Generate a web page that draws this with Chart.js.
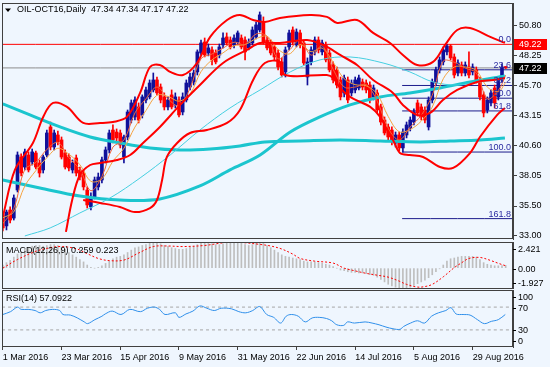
<!DOCTYPE html>
<html>
<head>
<meta charset="utf-8">
<script src="https://cdn.jsdelivr.net/npm/chart.js@4.4.0/dist/chart.umd.min.js"></script>
<style>
  html, body { margin: 0; padding: 0; background: #EFF6FE; }
  #wrap { position: relative; width: 550px; height: 367px; overflow: hidden; background: #EFF6FE; }
  canvas { position: absolute; left: 0; }
</style>
</head>
<body>
<div id="wrap">
  <canvas id="main" width="550" height="241" style="top:0px"></canvas>
  <canvas id="macd" width="550" height="48" style="top:241px"></canvas>
  <canvas id="rsi" width="550" height="78" style="top:289px"></canvas>
</div>
<script>
// ---- data ----
const title = 'OIL-OCT16,Daily  47.34 47.34 47.17 47.22';
const dateLabels = ['1 Mar 2016', '23 Mar 2016', '15 Apr 2016', '9 May 2016', '31 May 2016',
  '22 Jun 2016', '14 Jul 2016', '5 Aug 2016', '29 Aug 2016'];
const labelBars = [0, 16, 32, 48, 64, 80, 96, 112, 128];
const priceTicks = [50.80, 48.25, 45.70, 43.15, 40.60, 38.05, 35.50, 33.00];

const opens = [34.74,33.81,35.16,34.48,36.86,39.66,38.81,39.83,39.24,40.00,
  39.15,38.56,39.83,42.21,40.51,41.53,41.11,40.00,39.66,38.56,
  39.58,38.56,38.30,36.86,35.42,36.27,37.12,37.71,39.41,40.26,
  41.95,41.78,41.70,39.66,41.36,42.80,43.06,43.91,43.23,44.50,
  44.76,45.35,46.20,45.60,44.76,43.91,44.93,44.08,44.50,43.48,
  44.50,45.60,46.03,46.88,48.49,49.42,48.49,48.75,48.49,48.32,
  49.17,49.85,49.59,49.17,49.42,49.76,49.59,48.92,49.34,49.85,
  50.44,51.12,49.59,49.34,49.00,48.49,47.73,46.88,49.00,50.44,
  49.17,50.19,49.34,46.45,47.73,48.58,49.59,48.58,49.17,48.49,
  47.47,47.05,46.20,45.10,46.20,45.10,45.35,45.52,46.03,45.94,
  45.77,44.76,45.10,43.91,42.80,42.21,41.95,40.85,41.53,40.43,
  41.53,42.12,42.63,44.25,43.91,43.65,42.21,44.50,45.94,47.05,
  47.73,48.58,49.08,48.15,46.79,47.47,46.79,47.30,46.88,47.05,
  46.20,44.93,43.65,44.25,45.52,44.76,46.20,47.34];
const highs = [34.99,35.16,35.42,36.44,40.09,39.92,40.34,40.09,40.34,40.17,
  39.41,39.83,41.95,42.63,41.95,41.87,41.36,40.26,39.92,39.41,
  39.83,38.81,38.56,37.12,36.61,37.96,38.30,39.66,40.51,41.95,
  42.38,42.04,41.95,41.53,43.65,44.50,44.76,44.25,44.93,45.60,
  46.20,46.79,46.45,45.86,45.10,44.76,45.35,45.10,44.76,45.10,
  46.20,46.79,47.05,48.75,49.59,49.76,49.25,49.00,48.75,49.25,
  50.19,50.19,49.85,50.02,50.36,50.02,49.85,49.68,50.70,51.12,
  51.97,51.55,49.85,49.59,49.25,48.75,48.07,49.00,50.44,50.70,
  50.53,50.44,49.59,48.07,49.00,49.85,49.85,49.59,49.42,48.75,
  47.73,47.30,46.45,46.62,46.45,46.20,46.45,46.62,46.28,46.20,
  46.03,45.77,45.35,44.16,43.06,42.46,42.21,41.78,41.78,42.04,
  42.63,43.06,43.74,44.50,44.16,43.91,44.76,46.28,47.30,48.15,
  49.00,49.22,49.20,48.41,47.90,47.73,47.73,48.58,47.56,47.30,
  46.45,45.18,44.76,45.35,45.77,46.45,47.56,47.34];
const lows = [33.38,33.47,34.06,34.31,36.69,38.05,38.56,38.39,38.98,38.64,
  37.96,38.30,39.66,40.26,40.26,40.68,39.49,38.64,38.47,38.30,
  38.05,37.71,36.86,35.33,35.16,36.10,36.86,37.45,39.15,40.00,
  40.85,41.02,40.43,39.15,41.11,42.55,42.80,42.55,42.97,44.25,
  44.59,45.18,44.93,44.25,43.65,43.65,43.74,43.82,43.06,43.23,
  44.33,45.35,45.77,46.62,48.32,48.15,48.24,47.47,47.56,48.07,
  48.92,49.17,48.83,48.92,49.25,48.83,47.90,48.75,49.17,49.68,
  50.27,49.25,48.75,48.32,47.90,47.05,46.45,46.45,48.75,49.17,
  49.00,48.92,47.47,45.77,47.47,48.32,48.49,48.32,47.73,46.88,
  45.94,45.52,44.50,44.76,44.25,44.84,45.10,45.35,45.35,45.10,
  44.25,44.50,43.40,42.38,41.53,41.11,40.68,40.51,40.20,40.08,
  41.28,41.87,42.38,43.14,42.80,42.55,41.95,44.25,45.69,46.79,
  47.47,48.32,47.90,46.37,46.54,46.54,46.54,46.37,46.62,45.94,
  44.50,43.06,43.40,43.99,43.82,44.50,46.03,47.17];
const closes = [33.64,34.99,34.31,36.18,39.83,38.30,40.09,38.56,40.09,38.81,
  38.30,39.66,41.70,40.51,41.70,40.94,39.66,38.81,38.73,39.15,
  38.30,37.96,37.12,35.59,36.27,37.71,37.96,39.41,40.26,41.70,
  41.11,41.28,40.68,41.36,43.48,44.25,44.50,42.80,44.76,45.35,
  45.94,46.20,45.10,44.50,43.91,44.50,43.91,44.76,43.23,44.76,
  45.94,46.45,46.79,48.58,49.34,48.32,48.92,47.90,47.73,49.00,
  49.76,49.34,49.00,49.76,50.19,49.00,48.58,49.42,50.44,50.87,
  51.72,49.42,48.92,48.49,48.15,47.30,46.62,48.75,50.19,49.42,
  50.27,49.17,47.64,47.73,48.75,49.59,48.75,49.34,47.90,47.05,
  46.20,45.77,44.76,46.37,44.50,45.94,46.20,46.37,45.60,45.35,
  44.50,45.52,43.65,42.63,41.70,41.36,40.94,41.53,40.43,41.78,
  42.38,42.80,43.48,43.40,43.06,42.80,44.50,46.03,47.05,47.90,
  48.75,49.08,48.07,46.62,47.64,46.79,47.47,46.62,47.30,46.20,
  44.76,43.40,44.50,45.10,44.25,46.20,47.30,47.22];

// [bar, price] points
const bbUpper = [[0,34.57],[3.3,38.56],[8.2,40.85],[11,43.06],[13.7,44.25],[17.5,43.91],[21.9,42.55],
  [26.5,42.55],[30,42.63],[33.8,43.06],[37.4,45.10],[40.1,47.30],[42.8,47.47],[45.6,46.88],[49.1,46.62],
  [52.9,47.64],[56.5,49.85],[61.1,51.29],[64.6,51.72],[68.2,51.29],[71.4,51.12],[75.5,51.46],[83.7,51.72],
  [88.3,51.55],[91.1,51.04],[96.5,51.29],[100.9,50.19],[105.5,49.34],[109,48.32],[112.9,47.47],[117.2,47.73],
  [120.5,49.17],[123.8,50.44],[127.3,50.61],[132.8,49.85],[136.8,49.34]];
const bbMiddle = [[17.2,33.30],[18.9,36.01],[21,38.13],[23.8,38.98],[26.5,39.15],[31.1,39.41],[34.7,39.83],
  [38.2,40.85],[42.8,42.21],[48.3,44.08],[53.7,45.77],[60,47.64],[66.5,48.75],[70.1,49.34],[75.5,49.34],
  [82.9,49.59],[87.3,49.17],[91.9,48.32],[96.5,47.47],[100.9,46.20],[106.3,45.10],[109,44.08],[112.9,43.23],
  [116.4,43.40],[119.9,44.50],[123.8,45.35],[129.2,46.03],[133.6,46.20],[136.8,46.37]];
const bbLower = [[21.9,36.01],[26.5,35.76],[31.9,35.42],[36,34.99],[40.1,35.33],[42,36.01],[43.4,37.71],
  [44.7,39.66],[47.5,40.85],[51,41.70],[55.6,41.95],[61.1,42.55],[64.6,43.65],[68.2,46.20],[71.4,47.64],
  [75.5,47.73],[76.9,46.62],[88.3,46.62],[90,46.37],[91.9,45.52],[94.6,44.76],[100.1,43.91],[102.8,43.06],
  [104.7,41.95],[106.3,41.11],[108.2,40.00],[110.9,39.83],[114.5,39.66],[119.1,38.81],[122.7,38.73],
  [127.3,40.00],[130,41.36],[134.7,43.23],[136.8,43.82]];
const maFast = [[0,34.0],[3,35.3],[6,38.6],[9,39.2],[12,40.3],[15,40.9],[18,39.6],[21,38.6],[24,36.8],
  [27,38.0],[30,40.5],[33,41.1],[36,43.4],[39,44.6],[42,45.6],[45,44.6],[48,44.0],[51,45.5],[54,48.0],
  [57,48.4],[60,48.9],[63,49.4],[66,49.2],[69,50.1],[72,49.9],[75,48.0],[78,48.7],[81,49.6],[84,48.3],
  [87,49.1],[90,47.1],[93,45.6],[96,45.6],[99,45.8],[102,44.4],[105,42.1],[108,41.1],[111,42.2],[114,43.2],
  [117,44.9],[120,47.8],[123,47.7],[126,47.2],[129,46.8],[132,44.6],[135,45.3],[137,46.6]];
const maSlow = [[0,34.5],[3,35.0],[6,37.2],[9,38.5],[12,39.6],[15,40.4],[18,39.9],[21,39.0],[24,37.6],
  [27,37.8],[30,39.3],[33,40.4],[36,42.2],[39,43.6],[42,44.9],[45,44.8],[48,44.4],[51,45.0],[54,46.9],
  [57,47.9],[60,48.5],[63,49.1],[66,49.2],[69,49.7],[72,49.9],[75,48.8],[78,48.4],[81,49.2],[84,48.6],
  [87,48.9],[90,47.7],[93,46.3],[96,45.8],[99,45.7],[102,45.0],[105,43.1],[108,41.8],[111,42.0],[114,42.7],
  [117,43.9],[120,46.3],[123,47.3],[126,47.3],[129,47.0],[132,45.6],[135,45.2],[137,46.0]];
const ma200 = [[0,44.16],[7.4,43.23],[15.6,42.21],[23.8,41.36],[31.9,40.85],[40.1,40.43],[48.3,40.26],
  [56.5,40.34],[64.6,40.60],[71.4,40.94],[81,41.02],[91.9,41.11],[102.8,41.02],[113.7,40.94],[121.9,41.02],
  [130,41.11],[136.8,41.28]];
const ma100 = [[0,37.71],[10.1,37.03],[21,36.35],[31.9,36.01],[42.8,36.10],[53.7,37.20],[61.9,38.56],
  [70.1,39.83],[78.3,41.78],[86.4,43.06],[94.6,44.08],[102.8,44.76],[110.9,45.10],[119.1,45.52],
  [127.3,46.03],[136.8,46.54]];
const ma50 = [[6,32.96],[12.9,33.64],[21,34.91],[29.2,36.18],[37.4,37.88],[45.6,39.83],[53.7,41.95],
  [61.9,43.82],[70.1,45.35],[78.3,46.88],[86.4,47.90],[94.6,48.15],[103.6,47.64],[110.9,46.88],
  [117.2,46.03],[123.8,45.77],[130,46.03],[136.8,46.28]];

const hLinePrice = 49.22;
const bidPrice = 47.22;
const fibStartBar = 108.8;
const fibLevels = ['0.0', '23.6', '38.2', '50.0', '61.8', '100.0', '161.8'];
const fibPrices = [49.22, 47.06, 45.73, 44.65, 43.57, 40.08, 34.43];

const macdHist = [0.29,0.51,0.73,1.02,1.31,1.52,1.74,1.89,2.03,2.10,
  2.10,2.03,2.10,2.18,2.18,2.10,1.96,1.74,1.45,1.23,
  1.02,0.80,0.58,0.29,0.07,0.00,0.07,0.22,0.44,0.65,
  0.87,1.02,1.09,1.23,1.45,1.67,1.89,1.96,2.10,2.18,
  2.32,2.39,2.32,2.25,2.10,2.03,1.89,1.81,1.74,1.74,
  1.81,1.96,2.03,2.18,2.32,2.32,2.32,2.25,2.18,2.18,
  2.25,2.32,2.32,2.39,2.42,2.32,2.18,2.10,2.18,2.32,
  2.42,2.32,2.10,1.89,1.67,1.45,1.23,1.09,1.02,0.94,
  0.87,0.80,0.65,0.58,0.58,0.58,0.51,0.44,0.36,0.29,
  0.15,0.00,-0.17,-0.22,-0.33,-0.39,-0.39,-0.44,-0.44,-0.50,
  -0.61,-0.66,-0.83,-1.05,-1.27,-1.49,-1.65,-1.76,-1.87,-1.93,
  -1.87,-1.76,-1.60,-1.43,-1.27,-1.10,-0.88,-0.61,-0.33,-0.06,
  0.29,0.65,0.87,0.94,1.02,1.09,1.09,1.09,1.09,1.02,
  0.80,0.51,0.36,0.29,0.22,0.22,0.25,0.26];
const macdSignal = [[0,0.0],[4,0.8],[9,1.56],[13,1.9],[16,2.0],[20,1.8],[23,1.34],[26,0.9],[29,0.7],
  [33,0.75],[37,1.4],[41,2.0],[45,2.05],[49,2.0],[55,2.1],[59,2.3],[62,2.42],[66,2.35],[70,2.2],[73,2.05],
  [76,1.77],[79,1.3],[81,0.9],[85,0.65],[90,0.47],[93,0.0],[96,-0.25],[99,-0.48],[102,-0.65],[105,-0.83],
  [108,-1.2],[110,-1.5],[113,-1.75],[115,-1.7],[117,-1.5],[120,-0.8],[123,0.05],[125,0.5],[127,0.9],
  [130,0.99],[133,0.7],[135,0.45],[137,0.223]];
const rsi = [[0,57],[2.1,62],[4,70],[5,66],[6.9,66],[8.8,64],[10.2,60],[11.7,64],[13.6,66],[15.5,64],
  [16.4,57],[18.4,56],[20.3,51],[22.2,44],[23.1,41],[25.1,48],[27,54],[27.9,58],[29.8,63],[32.2,57],
  [34.6,66],[37.5,62],[39.4,68],[41.3,70],[42.7,66],[44.2,57],[47,60],[48,52],[49.9,58],[51.8,63],
  [53.7,72],[55.6,68],[57.6,64],[59.5,68],[62.3,67],[64.3,62],[66.2,60],[68.1,64],[70,71],[71.9,57],
  [73.8,52],[75.7,42],[77.2,54],[78.6,57],[80.5,54],[82.4,44],[84.3,51],[86.2,52],[88.2,50],[89.6,46],
  [91,39],[92.9,38],[93.9,44],[95.8,42],[98.7,44],[100.6,42],[102.5,39],[104.4,35],[106.3,32],[108.2,31],
  [109.2,36],[111.1,42],[113,46],[114.9,42],[116.8,54],[118.7,60],[120.7,64],[122.1,69],[123.5,58],
  [125.4,57],[127.3,56],[129.3,48],[131.2,41],[133.1,45],[135,48],[136.9,57]];

// ---- drawing ----
const FONT = '"Liberation Sans", Arial, sans-serif';
const X_MIN = -0.22, X_MAX = 139;
const BULL = '#10109A', BEAR = '#FF0000', FRAME = '#404040';

function pts(arr) { return arr.map(p => ({ x: p[0], y: p[1] })); }
function line(arr, color, width, order, dash) {
  return { type: 'line', data: pts(arr), borderColor: color, borderWidth: width, borderDash: dash || [],
    pointRadius: 0, fill: false, tension: 0.35, order: order };
}
function hline(price, from, color, order, dash) {
  return line([[from, price], [X_MAX, price]], color, 1, order, dash);
}
function hiddenX() {
  return { type: 'linear', min: X_MIN, max: X_MAX, offset: false, display: false };
}
function sideAxis(min, max, extra) {
  return Object.assign({
    type: 'linear', position: 'right', min: min, max: max,
    grid: { drawOnChartArea: false, drawTicks: false },
    border: { display: true, color: FRAME },
    ticks: { display: false },
    afterFit: s => { s.width = 37; s.paddingTop = 0; s.paddingBottom = 0; }
  }, extra || {});
}

const framePlugin = {
  id: 'frame',
  afterDraw(chart) {
    const { ctx, chartArea: a } = chart;
    ctx.save();
    ctx.strokeStyle = FRAME;
    ctx.lineWidth = 1;
    ctx.strokeRect(Math.round(a.left) + 0.5, Math.round(a.top) + 0.5,
      Math.round(a.right - a.left) - 1, Math.round(a.bottom - a.top) - 1);
    ctx.restore();
  }
};

const base = {
  responsive: false, animation: false, devicePixelRatio: 1, events: [],
  plugins: { legend: { display: false }, tooltip: { enabled: false } }
};

const up = closes.map((c, i) => c >= opens[i]);
const candleColors = up.map(u => u ? BULL : BEAR);

// main price panel
new Chart(document.getElementById('main'), {
  type: 'bar',
  data: {
    datasets: [
      line(bbUpper, '#FF0000', 2, 3),
      line(bbMiddle, '#FF0000', 2, 3),
      line(bbLower, '#FF0000', 2, 3),
      line(maFast, '#F2643A', 1, 4),
      line(maSlow, '#F5A341', 1, 4),
      line(ma50, '#45CFE0', 1, 5),
      line(ma200, '#1BC5CE', 3, 6),
      line(ma100, '#1BC5CE', 3, 6),
      { type: 'bar', data: closes.map((c, i) => ({ x: i, y: [Math.min(opens[i], c), Math.max(opens[i], c)] })),
        backgroundColor: candleColors, barThickness: 3, minBarLength: 1, grouped: false, order: 7 },
      { type: 'bar', data: closes.map((c, i) => ({ x: i, y: [lows[i], highs[i]] })),
        backgroundColor: candleColors, barThickness: 1, grouped: false, order: 8 },
      hline(hLinePrice, X_MIN, '#FF0000', 20),
      hline(bidPrice, X_MIN, '#8C8C8C', 20),
      ...fibPrices.slice(1).map(p => hline(p, fibStartBar, '#1C1C8C', 21))
    ]
  },
  options: Object.assign({}, base, {
    layout: { padding: { left: 2, top: 3, bottom: 2, right: 0 } },
    scales: {
      x: hiddenX(),
      y: sideAxis(32.70, 52.73, {
        grid: { drawOnChartArea: false, drawTicks: true, tickLength: 4, color: FRAME },
        ticks: { display: true, font: { family: FONT, size: 9 }, color: '#000', padding: 2,
          callback: v => v.toFixed(2) },
        afterBuildTicks: s => { s.ticks = priceTicks.map(v => ({ value: v })); }
      })
    }
  }),
  plugins: [framePlugin, {
    id: 'mainText',
    afterDraw(chart) {
      const { ctx, chartArea: a } = chart;
      const y = chart.scales.y;
      ctx.save();
      ctx.fillStyle = '#000';
      ctx.beginPath(); ctx.moveTo(5, 8.5); ctx.lineTo(11, 8.5); ctx.lineTo(8, 12); ctx.closePath(); ctx.fill();
      ctx.font = '9px ' + FONT;
      ctx.textBaseline = 'middle';
      ctx.fillText(title, 17, 10);
      ctx.fillStyle = '#2B2BA0';
      ctx.textAlign = 'right';
      ctx.textBaseline = 'alphabetic';
      fibLevels.forEach((lv, k) => ctx.fillText(lv, a.right - 2, y.getPixelForValue(fibPrices[k]) - 2));
      ctx.textAlign = 'left';
      ctx.textBaseline = 'middle';
      [[hLinePrice, '#FF0000'], [bidPrice, '#000000']].forEach(([p, c]) => {
        const py = Math.round(y.getPixelForValue(p));
        ctx.fillStyle = c;
        ctx.fillRect(a.right + 1, py - 5, 33, 11);
        ctx.fillStyle = '#FFFFFF';
        ctx.fillText(p.toFixed(2), a.right + 6, py + 0.5);
      });
      ctx.restore();
    }
  }]
});

// MACD panel
new Chart(document.getElementById('macd'), {
  type: 'bar',
  data: {
    datasets: [
      line(macdSignal, '#FF0000', 1, 1, [2, 2]),
      { type: 'bar', data: macdHist.map((v, i) => ({ x: i, y: v })), backgroundColor: '#BEBEBE',
        barThickness: 1, grouped: false, order: 2 }
    ]
  },
  options: Object.assign({}, base, {
    layout: { padding: { left: 2, top: 1, bottom: 0, right: 0 } },
    scales: { x: hiddenX(), y: sideAxis(-1.927, 2.421) }
  }),
  plugins: [framePlugin, {
    id: 'macdText',
    afterDraw(chart) {
      const { ctx, chartArea: a } = chart;
      const y = chart.scales.y;
      ctx.save();
      ctx.font = '9px ' + FONT;
      ctx.fillStyle = '#000';
      ctx.textBaseline = 'middle';
      ctx.fillText('MACD(12,26,9) 0.259 0.223', 6, a.top + 9);
      [[2.421, 7, '2.421'], [0, 1, '0.00'], [-1.927, -6, '-1.927']].forEach(([v, dy, t]) => {
        const py = Math.round(y.getPixelForValue(v) + dy);
        ctx.fillRect(a.right, py, 3, 1);
        ctx.fillText(t, a.right + 5, py + 0.5);
      });
      ctx.restore();
    }
  }]
});

// RSI panel with the date axis
new Chart(document.getElementById('rsi'), {
  type: 'line',
  data: {
    datasets: [
      line(rsi, '#2F8FEA', 1, 1),
      hline(70, X_MIN, '#A6A6A6', 2, [3, 3]),
      hline(30, X_MIN, '#A6A6A6', 2, [3, 3])
    ]
  },
  options: Object.assign({}, base, {
    layout: { padding: { left: 2, top: 1, bottom: 0, right: 0 } },
    scales: {
      x: {
        type: 'linear', min: X_MIN, max: X_MAX, offset: false, position: 'bottom',
        grid: { drawOnChartArea: false, drawTicks: true, tickLength: 3, color: FRAME },
        border: { display: false },
        ticks: { autoSkip: false, maxRotation: 0, align: 'start', padding: 2,
          font: { family: FONT, size: 9 }, color: '#000',
          callback: v => dateLabels[labelBars.indexOf(v)] },
        afterBuildTicks: s => { s.ticks = labelBars.map(b => ({ value: b })); },
        afterFit: s => { s.height = 20; s.paddingLeft = 0; s.paddingRight = 0; }
      },
      y: sideAxis(0, 100)
    }
  }),
  plugins: [framePlugin, {
    id: 'rsiText',
    afterDraw(chart) {
      const { ctx, chartArea: a } = chart;
      const y = chart.scales.y;
      ctx.save();
      ctx.font = '9px ' + FONT;
      ctx.fillStyle = '#000';
      ctx.textBaseline = 'middle';
      ctx.fillText('RSI(14) 57.0922', 6, a.top + 9);
      [[100, 7, '100'], [70, 1, '70'], [30, 0, '30'], [0, -6, '0']].forEach(([v, dy, t]) => {
        const py = Math.round(y.getPixelForValue(v) + dy);
        ctx.fillRect(a.right, py, 3, 1);
        ctx.fillText(t, a.right + 5, py + 0.5);
      });
      ctx.restore();
    }
  }]
});
</script>
</body>
</html>
